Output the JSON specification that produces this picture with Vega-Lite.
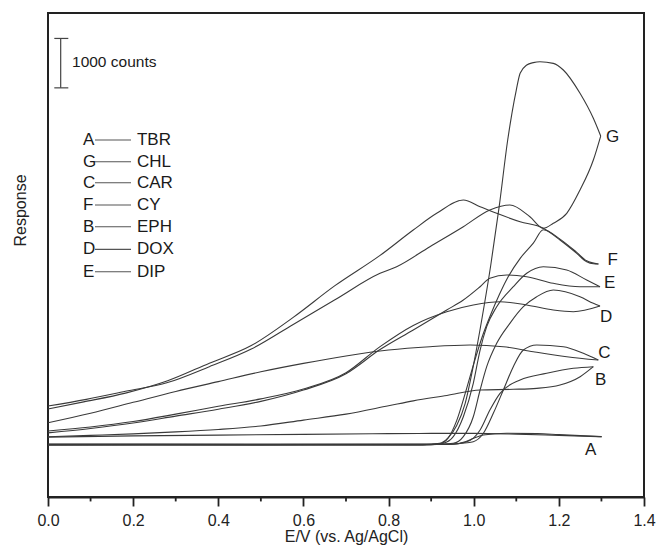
{
  "$schema": "https://vega.github.io/schema/vega-lite/v6.json",
  "width": 596,
  "height": 484,
  "autosize": "none",
  "padding": {"left": 48, "top": 13, "right": 12, "bottom": 56},
  "config": {
    "font": "Liberation Sans",
    "view": {"stroke": "#222222", "strokeWidth": 2}
  },
  "datasets": {
    "curves": [
      {"s":"A","b":"f","E":0,"c":1075},{"s":"A","b":"f","E":0.5,"c":1072},{"s":"A","b":"f","E":0.95,"c":1075},{"s":"A","b":"f","E":0.98,"c":1120},{"s":"A","b":"f","E":1.0,"c":1190},{"s":"A","b":"f","E":1.0227,"c":1257},{"s":"A","b":"f","E":1.0775,"c":1292},{"s":"A","b":"f","E":1.15,"c":1285},{"s":"A","b":"f","E":1.2,"c":1265},{"s":"A","b":"f","E":1.25,"c":1245},{"s":"A","b":"f","E":1.3007,"c":1223},
      {"s":"A","b":"r","E":1.3007,"c":1223},{"s":"A","b":"r","E":1.2,"c":1250},{"s":"A","b":"r","E":1.1,"c":1275},{"s":"A","b":"r","E":1.0,"c":1290},{"s":"A","b":"r","E":0.9,"c":1290},{"s":"A","b":"r","E":0.8,"c":1285},{"s":"A","b":"r","E":0.6,"c":1270},{"s":"A","b":"r","E":0.4,"c":1255},{"s":"A","b":"r","E":0.2,"c":1240},{"s":"A","b":"r","E":0,"c":1215},

      {"s":"G","b":"f","E":0,"c":1060},{"s":"G","b":"f","E":0.5,"c":1058},{"s":"G","b":"f","E":0.88,"c":1060},{"s":"G","b":"f","E":0.92,"c":1090},{"s":"G","b":"f","E":0.94,"c":1200},{"s":"G","b":"f","E":0.96,"c":1450},{"s":"G","b":"f","E":0.98,"c":1900},{"s":"G","b":"f","E":1.0,"c":2700},{"s":"G","b":"f","E":1.02,"c":3650},{"s":"G","b":"f","E":1.04,"c":4700},{"s":"G","b":"f","E":1.06,"c":5900},{"s":"G","b":"f","E":1.08,"c":7250},{"s":"G","b":"f","E":1.1,"c":8254},{"s":"G","b":"f","E":1.109,"c":8593},{"s":"G","b":"f","E":1.1245,"c":8761},{"s":"G","b":"f","E":1.14,"c":8810},{"s":"G","b":"f","E":1.1557,"c":8828},{"s":"G","b":"f","E":1.187,"c":8795},{"s":"G","b":"f","E":1.2105,"c":8660},{"s":"G","b":"f","E":1.2497,"c":8187},{"s":"G","b":"f","E":1.281,"c":7680},{"s":"G","b":"f","E":1.2983,"c":7321},
      {"s":"G","b":"r","E":1.2983,"c":7321},{"s":"G","b":"r","E":1.281,"c":6834},{"s":"G","b":"r","E":1.2497,"c":6226},{"s":"G","b":"r","E":1.2185,"c":5753},{"s":"G","b":"r","E":1.187,"c":5551},{"s":"G","b":"r","E":1.1635,"c":5449},{"s":"G","b":"r","E":1.132,"c":5685},{"s":"G","b":"r","E":1.085,"c":5922},{"s":"G","b":"r","E":1.038,"c":5820},{"s":"G","b":"r","E":0.9756,"c":5482},{"s":"G","b":"r","E":0.897,"c":5076},{"s":"G","b":"r","E":0.819,"c":4670},{"s":"G","b":"r","E":0.78,"c":4536},{"s":"G","b":"r","E":0.674,"c":4000},{"s":"G","b":"r","E":0.576,"c":3500},{"s":"G","b":"r","E":0.4775,"c":3000},{"s":"G","b":"r","E":0.379,"c":2643},{"s":"G","b":"r","E":0.281,"c":2321},{"s":"G","b":"r","E":0.182,"c":2143},{"s":"G","b":"r","E":0.09,"c":1980},{"s":"G","b":"r","E":0,"c":1845},

      {"s":"F","b":"f","E":0,"c":1055},{"s":"F","b":"f","E":0.5,"c":1060},{"s":"F","b":"f","E":0.88,"c":1058},{"s":"F","b":"f","E":0.92,"c":1080},{"s":"F","b":"f","E":0.94,"c":1200},{"s":"F","b":"f","E":0.96,"c":1550},{"s":"F","b":"f","E":0.98,"c":2100},{"s":"F","b":"f","E":1.0,"c":2700},{"s":"F","b":"f","E":1.02,"c":3250},{"s":"F","b":"f","E":1.04,"c":3700},{"s":"F","b":"f","E":1.06,"c":4100},{"s":"F","b":"f","E":1.08,"c":4450},{"s":"F","b":"f","E":1.11,"c":4850},{"s":"F","b":"f","E":1.14,"c":5150},{"s":"F","b":"f","E":1.1635,"c":5420},{"s":"F","b":"f","E":1.2027,"c":5230},{"s":"F","b":"f","E":1.242,"c":4960},{"s":"F","b":"f","E":1.2654,"c":4790},{"s":"F","b":"f","E":1.293,"c":4725},
      {"s":"F","b":"r","E":1.293,"c":4725},{"s":"F","b":"r","E":1.281,"c":4730},{"s":"F","b":"r","E":1.2654,"c":4772},{"s":"F","b":"r","E":1.242,"c":4942},{"s":"F","b":"r","E":1.2027,"c":5212},{"s":"F","b":"r","E":1.1635,"c":5449},{"s":"F","b":"r","E":1.109,"c":5583},{"s":"F","b":"r","E":1.054,"c":5753},{"s":"F","b":"r","E":1.015,"c":5887},{"s":"F","b":"r","E":0.9756,"c":6023},{"s":"F","b":"r","E":0.913,"c":5753},{"s":"F","b":"r","E":0.858,"c":5415},{"s":"F","b":"r","E":0.78,"c":4900},{"s":"F","b":"r","E":0.674,"c":4286},{"s":"F","b":"r","E":0.576,"c":3643},{"s":"F","b":"r","E":0.4775,"c":3071},{"s":"F","b":"r","E":0.379,"c":2714},{"s":"F","b":"r","E":0.281,"c":2357},{"s":"F","b":"r","E":0.182,"c":2107},{"s":"F","b":"r","E":0.0837,"c":1929},{"s":"F","b":"r","E":0,"c":1786},

      {"s":"E","b":"f","E":0,"c":1058},{"s":"E","b":"f","E":0.5,"c":1055},{"s":"E","b":"f","E":0.9,"c":1060},{"s":"E","b":"f","E":0.9286,"c":1089},{"s":"E","b":"f","E":0.952,"c":1223},{"s":"E","b":"f","E":0.9756,"c":1628},{"s":"E","b":"f","E":0.999,"c":2306},{"s":"E","b":"f","E":1.015,"c":2981},{"s":"E","b":"f","E":1.0305,"c":3454},{"s":"E","b":"f","E":1.054,"c":3859},{"s":"E","b":"f","E":1.093,"c":4265},{"s":"E","b":"f","E":1.1245,"c":4537},{"s":"E","b":"f","E":1.1635,"c":4671},{"s":"E","b":"f","E":1.2185,"c":4604},{"s":"E","b":"f","E":1.2654,"c":4401},{"s":"E","b":"f","E":1.2967,"c":4265},
      {"s":"E","b":"r","E":1.2967,"c":4265},{"s":"E","b":"r","E":1.2497,"c":4265},{"s":"E","b":"r","E":1.187,"c":4334},{"s":"E","b":"r","E":1.1245,"c":4468},{"s":"E","b":"r","E":1.0775,"c":4502},{"s":"E","b":"r","E":1.038,"c":4435},{"s":"E","b":"r","E":1.015,"c":4265},{"s":"E","b":"r","E":0.9756,"c":3995},{"s":"E","b":"r","E":0.9366,"c":3792},{"s":"E","b":"r","E":0.858,"c":3387},{"s":"E","b":"r","E":0.78,"c":2990},{"s":"E","b":"r","E":0.7,"c":2500},{"s":"E","b":"r","E":0.6,"c":2170},{"s":"E","b":"r","E":0.5,"c":1940},{"s":"E","b":"r","E":0.4,"c":1780},{"s":"E","b":"r","E":0.3,"c":1640},{"s":"E","b":"r","E":0.2,"c":1500},{"s":"E","b":"r","E":0.1,"c":1390},{"s":"E","b":"r","E":0,"c":1300},

      {"s":"D","b":"f","E":0,"c":1062},{"s":"D","b":"f","E":0.5,"c":1064},{"s":"D","b":"f","E":0.9,"c":1062},{"s":"D","b":"f","E":0.952,"c":1089},{"s":"D","b":"f","E":0.9756,"c":1223},{"s":"D","b":"f","E":0.999,"c":1628},{"s":"D","b":"f","E":1.015,"c":2170},{"s":"D","b":"f","E":1.0305,"c":2643},{"s":"D","b":"f","E":1.054,"c":3117},{"s":"D","b":"f","E":1.085,"c":3522},{"s":"D","b":"f","E":1.1166,"c":3859},{"s":"D","b":"f","E":1.148,"c":4062},{"s":"D","b":"f","E":1.187,"c":4198},{"s":"D","b":"f","E":1.2497,"c":4062},{"s":"D","b":"f","E":1.281,"c":3928},{"s":"D","b":"f","E":1.2967,"c":3873},
      {"s":"D","b":"r","E":1.2967,"c":3873},{"s":"D","b":"r","E":1.234,"c":3758},{"s":"D","b":"r","E":1.187,"c":3792},{"s":"D","b":"r","E":1.1245,"c":3894},{"s":"D","b":"r","E":1.0618,"c":3961},{"s":"D","b":"r","E":0.999,"c":3894},{"s":"D","b":"r","E":0.9366,"c":3758},{"s":"D","b":"r","E":0.858,"c":3480},{"s":"D","b":"r","E":0.78,"c":3050},{"s":"D","b":"r","E":0.7,"c":2520},{"s":"D","b":"r","E":0.6,"c":2190},{"s":"D","b":"r","E":0.5,"c":1990},{"s":"D","b":"r","E":0.4,"c":1840},{"s":"D","b":"r","E":0.3,"c":1680},{"s":"D","b":"r","E":0.2,"c":1530},{"s":"D","b":"r","E":0.1,"c":1420},{"s":"D","b":"r","E":0,"c":1340},

      {"s":"C","b":"f","E":0,"c":1065},{"s":"C","b":"f","E":0.5,"c":1062},{"s":"C","b":"f","E":0.94,"c":1065},{"s":"C","b":"f","E":0.97,"c":1090},{"s":"C","b":"f","E":0.999,"c":1121},{"s":"C","b":"f","E":1.0227,"c":1292},{"s":"C","b":"f","E":1.046,"c":1697},{"s":"C","b":"f","E":1.0696,"c":2170},{"s":"C","b":"f","E":1.093,"c":2643},{"s":"C","b":"f","E":1.1166,"c":2981},{"s":"C","b":"f","E":1.148,"c":3083},{"s":"C","b":"f","E":1.2105,"c":3048},{"s":"C","b":"f","E":1.2575,"c":2914},{"s":"C","b":"f","E":1.2927,"c":2778},
      {"s":"C","b":"r","E":1.2927,"c":2778},{"s":"C","b":"r","E":1.2185,"c":2846},{"s":"C","b":"r","E":1.14,"c":2947},{"s":"C","b":"r","E":1.0696,"c":3048},{"s":"C","b":"r","E":0.9913,"c":3083},{"s":"C","b":"r","E":0.897,"c":3048},{"s":"C","b":"r","E":0.8,"c":2980},{"s":"C","b":"r","E":0.7,"c":2860},{"s":"C","b":"r","E":0.6,"c":2710},{"s":"C","b":"r","E":0.5,"c":2540},{"s":"C","b":"r","E":0.4,"c":2340},{"s":"C","b":"r","E":0.3,"c":2140},{"s":"C","b":"r","E":0.2,"c":1920},{"s":"C","b":"r","E":0.1,"c":1700},{"s":"C","b":"r","E":0,"c":1507},

      {"s":"B","b":"f","E":0,"c":1070},{"s":"B","b":"f","E":0.5,"c":1066},{"s":"B","b":"f","E":0.95,"c":1070},{"s":"B","b":"f","E":0.98,"c":1110},{"s":"B","b":"f","E":1.0,"c":1200},{"s":"B","b":"f","E":1.015,"c":1359},{"s":"B","b":"f","E":1.038,"c":1764},{"s":"B","b":"f","E":1.0618,"c":2103},{"s":"B","b":"f","E":1.109,"c":2373},{"s":"B","b":"f","E":1.1714,"c":2508},{"s":"B","b":"f","E":1.234,"c":2610},{"s":"B","b":"f","E":1.281,"c":2643},
      {"s":"B","b":"r","E":1.281,"c":2643},{"s":"B","b":"r","E":1.25,"c":2440},{"s":"B","b":"r","E":1.2027,"c":2271},{"s":"B","b":"r","E":1.148,"c":2204},{"s":"B","b":"r","E":1.093,"c":2184},{"s":"B","b":"r","E":1.015,"c":2170},{"s":"B","b":"r","E":0.937,"c":2060},{"s":"B","b":"r","E":0.858,"c":1950},{"s":"B","b":"r","E":0.8,"c":1850},{"s":"B","b":"r","E":0.7,"c":1680},{"s":"B","b":"r","E":0.6,"c":1560},{"s":"B","b":"r","E":0.5,"c":1440},{"s":"B","b":"r","E":0.4,"c":1370},{"s":"B","b":"r","E":0.3,"c":1320},{"s":"B","b":"r","E":0.2,"c":1280},{"s":"B","b":"r","E":0.1,"c":1250},{"s":"B","b":"r","E":0,"c":1223}
    ],
    "endLabels": [
      {"t":"G","E":1.311,"c":7307},
      {"t":"F","E":1.314,"c":4806},
      {"t":"E","E":1.306,"c":4346},
      {"t":"D","E":1.2967,"c":3657},
      {"t":"C","E":1.2927,"c":2914},
      {"t":"B","E":1.285,"c":2373},
      {"t":"A","E":1.2615,"c":953}
    ],
    "legend": [
      {"letter":"A","name":"TBR","c":7240},
      {"letter":"G","name":"CHL","c":6800},
      {"letter":"C","name":"CAR","c":6374},
      {"letter":"F","name":"CY","c":5922},
      {"letter":"B","name":"EPH","c":5482},
      {"letter":"D","name":"DOX","c":5023},
      {"letter":"E","name":"DIP","c":4569}
    ],
    "scalebar": [
      {"label":"1000 counts","lo":8298,"hi":9300}
    ],
    "caps": [
      {"c":8298},{"c":9300}
    ],
    "minorTicks": [
      {"E":0.1},{"E":0.3},{"E":0.5},{"E":0.7},{"E":0.9},{"E":1.1},{"E":1.3}
    ]
  },
  "layer": [
    {
      "data": {"name": "curves"},
      "mark": {"type": "line", "color": "#3a3a3a", "strokeWidth": 1.1, "interpolate": "monotone"},
      "encoding": {
        "x": {
          "field": "E", "type": "quantitative",
          "scale": {"domain": [0, 1.4], "nice": false, "zero": false},
          "axis": {
            "title": "E/V (vs. Ag/AgCl)",
            "values": [0, 0.2, 0.4, 0.6, 0.8, 1.0, 1.2, 1.4],
            "format": ".1f",
            "ticks": true,
            "tickSize": 9,
            "tickWidth": 1.8,
            "tickColor": "#222222",
            "domainColor": "#222222",
            "domainWidth": 2,
            "grid": false,
            "labelFontSize": 16,
            "labelColor": "#222222",
            "labelPadding": 6,
            "labelFlush": false,
            "labelOverlap": false,
            "titleFontSize": 16,
            "titleFontWeight": "normal",
            "titleColor": "#222222",
            "titlePadding": 0
          }
        },
        "y": {
          "field": "c", "type": "quantitative",
          "scale": {"domain": [0, 9816], "nice": false, "zero": false},
          "axis": {
            "title": "Response",
            "labels": false, "ticks": false, "domain": false, "grid": false,
            "titleFontSize": 16, "titleFontWeight": "normal", "titleColor": "#222222",
            "titleX": -28, "titleY": 197, "titleBaseline": "middle"
          }
        },
        "detail": [{"field": "s"}, {"field": "b"}]
      }
    },
    {
      "data": {"name": "minorTicks"},
      "mark": {"type": "rule", "color": "#222222", "strokeWidth": 1.8},
      "encoding": {
        "x": {"field": "E", "type": "quantitative"},
        "y": {"datum": 0},
        "y2": {"datum": -90}
      }
    },
    {
      "data": {"name": "endLabels"},
      "mark": {"type": "text", "align": "left", "baseline": "middle", "fontSize": 17, "color": "#1a1a1a"},
      "encoding": {
        "x": {"field": "E", "type": "quantitative"},
        "y": {"field": "c", "type": "quantitative"},
        "text": {"field": "t"}
      }
    },
    {
      "data": {"name": "legend"},
      "mark": {"type": "text", "align": "left", "baseline": "middle", "fontSize": 17, "color": "#1a1a1a"},
      "encoding": {
        "x": {"datum": 0.0822},
        "y": {"field": "c", "type": "quantitative"},
        "text": {"field": "letter"}
      }
    },
    {
      "data": {"name": "legend"},
      "mark": {"type": "rule", "color": "#555555", "strokeWidth": 1.1},
      "encoding": {
        "x": {"datum": 0.1104},
        "x2": {"datum": 0.195},
        "y": {"field": "c", "type": "quantitative"}
      }
    },
    {
      "data": {"name": "legend"},
      "mark": {"type": "text", "align": "left", "baseline": "middle", "fontSize": 17, "color": "#1a1a1a"},
      "encoding": {
        "x": {"datum": 0.209},
        "y": {"field": "c", "type": "quantitative"},
        "text": {"field": "name"}
      }
    },
    {
      "data": {"name": "scalebar"},
      "mark": {"type": "rule", "color": "#444444", "strokeWidth": 1.2},
      "encoding": {
        "x": {"datum": 0.0298},
        "y": {"field": "lo", "type": "quantitative"},
        "y2": {"field": "hi"}
      }
    },
    {
      "data": {"name": "caps"},
      "mark": {"type": "rule", "color": "#444444", "strokeWidth": 1.2},
      "encoding": {
        "x": {"datum": 0.0148},
        "x2": {"datum": 0.0477},
        "y": {"field": "c", "type": "quantitative"}
      }
    },
    {
      "data": {"name": "scalebar"},
      "mark": {"type": "text", "align": "left", "baseline": "middle", "fontSize": 15.5, "color": "#1a1a1a"},
      "encoding": {
        "x": {"datum": 0.0564},
        "y": {"datum": 8822},
        "text": {"field": "label"}
      }
    }
  ]
}
